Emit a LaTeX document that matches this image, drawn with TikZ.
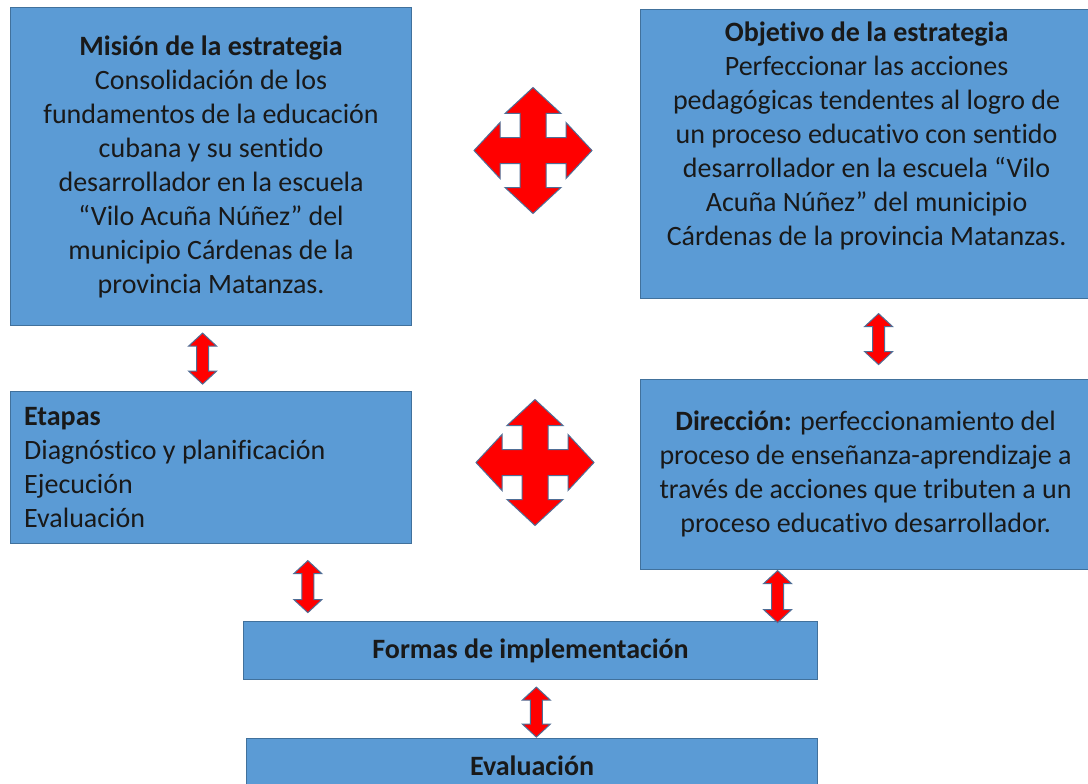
\documentclass[tikz,border=0pt]{standalone}
\usepackage{fontspec}
\setmainfont[Ligatures=NoCommon]{Carlito}
\usetikzlibrary{calc}
\definecolor{boxblue}{HTML}{5B9BD5}
\definecolor{boxedge}{HTML}{41719C}
\definecolor{arrred}{HTML}{FF0000}
\definecolor{arredge}{HTML}{4F6E96}
\begin{document}
\begin{tikzpicture}[x=1pt,y=-1pt,
  box/.style={draw=boxedge, line width=1.2pt, fill=boxblue, inner sep=0pt, anchor=north west},
  txt/.style={font=\fontsize{28}{34}\selectfont, align=center, inner sep=0pt, text=black!90},
  arrowfill/.style={fill=arrred, draw=arredge, line width=1pt, line join=miter},
  pics/dblarrow/.style={code={
    \path[arrowfill] (0,-#1) -- (14,-#1+13) -- (6,-#1+13) -- (6,#1-13) -- (14,#1-13)
      -- (0,#1) -- (-14,#1-13) -- (-6,#1-13) -- (-6,-#1+13) -- (-14,-#1+13) -- cycle;
  }},
  pics/crossarrow/.style={code={
    \path[arrowfill] (0,-63) -- (28,-37) -- (13,-37) -- (13,-13) -- (33,-13) -- (33,-28)
      -- (59,0) -- (33,28) -- (33,13) -- (13,13) -- (13,37) -- (28,37)
      -- (0,63) -- (-28,37) -- (-13,37) -- (-13,13) -- (-33,13) -- (-33,28)
      -- (-59,0) -- (-33,-28) -- (-33,-13) -- (-13,-13) -- (-13,-37) -- (-28,-37) -- cycle;
  }}]
\useasboundingbox (0,0) rectangle (1088,784);
\fill[white] (0,0) rectangle (1088,784);
\clip (0,0) rectangle (1088,784);

% boxes
\node[box, minimum width=401, minimum height=318] (mision) at (10,7) {};
\node[box, minimum width=450, minimum height=289] (objetivo) at (640,9) {};
\node[box, minimum width=401, minimum height=152] (etapas) at (10,391) {};
\node[box, minimum width=450, minimum height=190] (direccion) at (640,379) {};
\node[box, minimum width=574, minimum height=58] (formas) at (243,621) {};
\node[box, minimum width=571, minimum height=60] (evaluacion) at (246,738) {};

% texts
\node[txt] (tmision) at (mision.center) {\textbf{Misión de la estrategia}\\Consolidación de los\\fundamentos de la educación\\cubana y su sentido\\desarrollador en la escuela\\“Vilo Acuña Núñez” del\\municipio Cárdenas de la\\provincia Matanzas.};
\node[txt] (tobjetivo) at ($(objetivo.north)+(1,126.5)$) {\textbf{Objetivo de la estrategia}\\Perfeccionar las acciones\\pedagógicas tendentes al logro de\\un proceso educativo con sentido\\desarrollador en la escuela “Vilo\\Acuña Núñez” del municipio\\Cárdenas de la provincia Matanzas.};
\node[txt, align=left, anchor=west] (tetapas) at ($(etapas.west)+(14,0)$) {\textbf{Etapas}\\Diagnóstico y planificación\\Ejecución\\Evaluación};
\node[txt] (tdireccion) at ($(direccion.center)+(0,-1)$) {\textbf{Dirección:} perfeccionamiento del\\proceso de enseñanza-aprendizaje a\\través de acciones que tributen a un\\proceso educativo desarrollador.};
\node[txt] (tformas) at (formas.center) {\textbf{Formas de implementación}};
\node[txt] (tevaluacion) at ($(evaluacion.north)+(0,28)$) {\textbf{Evaluación}};

% connector arrows
\coordinate (c1) at ($(mision.south)!0.5!(etapas.north)+(-8.5,0)$);
\coordinate (c2) at ($(etapas.south)!0.5!(formas.north)+(-63,4)$);
\coordinate (c3) at ($(objetivo.south)!0.5!(direccion.north)+(13,0)$);
\coordinate (c4) at ($(direccion.south)!0.5!(formas.north)+(79.5,1)$);
\coordinate (c5) at ($(formas.south)!0.5!(evaluacion.north)+(5,3)$);
\pic at (c1) {dblarrow=25.5};
\pic at (c2) {dblarrow=26};
\pic at (c3) {dblarrow=25.5};
\pic at (c4) {dblarrow=26};
\pic at (c5) {dblarrow=25};

% four-way arrows
\coordinate (x1) at (533,150.5);
\coordinate (x2) at (535,462.5);
\pic at (x1) {crossarrow};
\pic at (x2) {crossarrow};
\end{tikzpicture}
\end{document}
